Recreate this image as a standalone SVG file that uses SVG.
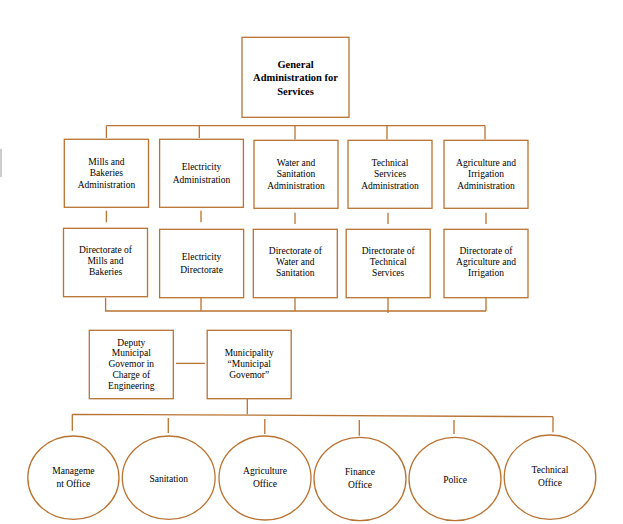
<svg xmlns="http://www.w3.org/2000/svg" width="623" height="524" viewBox="0 0 623 524">
<style>
.b{fill:#fff;stroke:#B87333;stroke-width:1.3}
.c{fill:none;stroke:#B87333;stroke-width:1.3}
text{font-family:"Liberation Serif","Times New Roman",serif;font-size:9.5px;fill:#000;text-anchor:middle}
.t{font-weight:bold;font-size:10.5px}
</style>
<rect width="623" height="524" fill="#fff"/>
<line x1="1" y1="149" x2="1" y2="177" stroke="#bbb" stroke-width="1.5"/>
<g id="connectors" class="c">
<path d="M106.4 125.7H485M106.4 125.7V138M199.3 125.7V138M295 125.7V139.5M387 125.7V139.5M485 125.7V139.5"/>
<path d="M106.4 210.7V222.3M201 210.7V222.3M295 212.7V224M388 212.7V224M486 212.7V224"/>
<path d="M105.6 297.7V311H486M201 297.7V311M295 297.7V311M388 297.7V313M486 297.7V311"/>
<path d="M175.9 363.3H204.9M247.3 398.7V414.3"/>
<path d="M72.3 414.3L553 416.7M72.3 414.3V430.7M168.3 418V433M264.8 419V434M359.3 420V435.7M454 420V434M553 416.7V432.3"/>
</g>
<g id="general">
<rect class="b" x="242" y="37.3" width="107" height="80"/>
<text class="t" x="295.5" y="68">General</text>
<text class="t" x="295.5" y="81">Administration for</text>
<text class="t" x="295.5" y="94.5">Services</text>
</g>
<g id="mills-admin">
<rect class="b" x="64.3" y="139.3" width="84.2" height="68"/>
<text x="106.4" y="165">Mills and</text>
<text x="106.4" y="176.3">Bakeries</text>
<text x="106.4" y="188">Administration</text>
</g>
<g id="electricity-admin">
<rect class="b" x="159.6" y="139.3" width="83.8" height="68"/>
<text x="201.5" y="170">Electricity</text>
<text x="201.5" y="183.3">Administration</text>
</g>
<g id="water-admin">
<rect class="b" x="254" y="140.3" width="84" height="68"/>
<text x="296" y="166">Water and</text>
<text x="296" y="177.3">Sanitation</text>
<text x="296" y="189">Administration</text>
</g>
<g id="technical-admin">
<rect class="b" x="348" y="140.3" width="84" height="68"/>
<text x="390" y="166">Technical</text>
<text x="390" y="177.3">Services</text>
<text x="390" y="189">Administration</text>
</g>
<g id="agri-admin">
<rect class="b" x="444" y="140.3" width="84" height="68"/>
<text x="486" y="166">Agriculture and</text>
<text x="486" y="177.3">Irrigation</text>
<text x="486" y="189">Administration</text>
</g>
<g id="mills-dir">
<rect class="b" x="63.5" y="228.3" width="84" height="68.4"/>
<text x="105.5" y="253.3">Directorate of</text>
<text x="105.5" y="264.3">Mills and</text>
<text x="105.5" y="275">Bakeries</text>
</g>
<g id="electricity-dir">
<rect class="b" x="159.6" y="229.3" width="84" height="68.4"/>
<text x="201.6" y="260.3">Electricity</text>
<text x="201.6" y="273">Directorate</text>
</g>
<g id="water-dir">
<rect class="b" x="253.3" y="229.3" width="84" height="68.4"/>
<text x="295.3" y="254.3">Directorate of</text>
<text x="295.3" y="265">Water and</text>
<text x="295.3" y="276">Sanitation</text>
</g>
<g id="technical-dir">
<rect class="b" x="346.2" y="229.3" width="84" height="68.4"/>
<text x="388.2" y="254.3">Directorate of</text>
<text x="388.2" y="265">Technical</text>
<text x="388.2" y="276">Services</text>
</g>
<g id="agri-dir">
<rect class="b" x="444" y="229.3" width="84" height="68.4"/>
<text x="486" y="254.3">Directorate of</text>
<text x="486" y="265">Agriculture and</text>
<text x="486" y="276">Irrigation</text>
</g>
<g id="deputy">
<rect class="b" x="89.3" y="330.3" width="84" height="68.4"/>
<text x="131.3" y="345.5">Deputy</text>
<text x="131.3" y="356.3">Municipal</text>
<text x="131.3" y="367">Govemor in</text>
<text x="131.3" y="377.7">Charge of</text>
<text x="131.3" y="388.5">Engineering</text>
</g>
<g id="municipality">
<rect class="b" x="207.2" y="330.3" width="84" height="68.4"/>
<text x="249.2" y="356">Municipality</text>
<text x="249.2" y="367">“Municipal</text>
<text x="249.2" y="378">Govemor”</text>
</g>
<g id="management-office">
<ellipse class="b" cx="73.4" cy="477.7" rx="45.6" ry="41.7"/>
<text x="73.4" y="473.5">Manageme</text>
<text x="73.4" y="486.5">nt Office</text>
</g>
<g id="sanitation">
<ellipse class="b" cx="168.7" cy="477.7" rx="46.4" ry="41.7"/>
<text x="168.7" y="482">Sanitation</text>
</g>
<g id="agriculture-office">
<ellipse class="b" cx="265" cy="478" rx="46" ry="42"/>
<text x="265" y="473.5">Agriculture</text>
<text x="265" y="486.5">Office</text>
</g>
<g id="finance-office">
<ellipse class="b" cx="360" cy="479" rx="46" ry="41.7"/>
<text x="360" y="475">Finance</text>
<text x="360" y="488">Office</text>
</g>
<g id="police">
<ellipse class="b" cx="455" cy="479" rx="46" ry="41.7"/>
<text x="455" y="483">Police</text>
</g>
<g id="technical-office">
<ellipse class="b" cx="550" cy="477.2" rx="45.8" ry="42.2"/>
<text x="550" y="473">Technical</text>
<text x="550" y="486">Office</text>
</g>
</svg>
